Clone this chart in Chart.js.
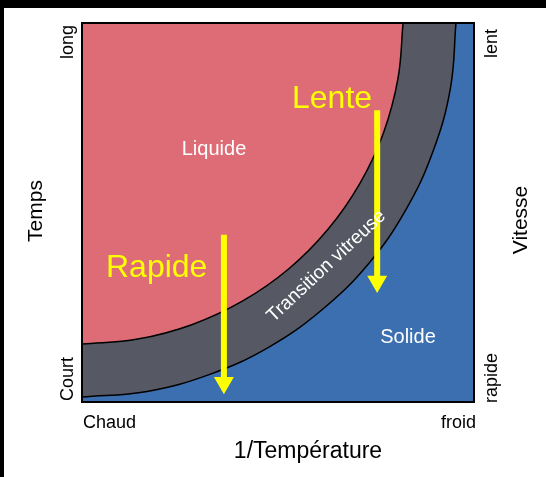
<!DOCTYPE html>
<html>
<head>
<meta charset="utf-8">
<script src="https://cdn.jsdelivr.net/npm/chart.js@4.4.1/dist/chart.umd.min.js"></script>
<style>
  html, body { margin: 0; padding: 0; background: #fff; }
  canvas { display: block; }
</style>
</head>
<body>
<canvas id="chart" width="546" height="477"></canvas>
<script>
// boundary between liquid and glass transition (x = 1/T, y = time)
const liquideX = [0, 14.2, 28.0, 40.9, 52.7, 62.7, 70.9, 76.9, 80.6, 81.9];
const liquideY = [15.3, 16.6, 20.4, 26.6, 35.1, 45.5, 57.7, 71.0, 85.3, 100];
// boundary between glass transition and solid
const verreX = [0, 16.6, 32.6, 47.7, 61.3, 73.1, 82.6, 89.6, 94.0, 95.4];
const verreY = [1.3, 2.8, 7.3, 14.5, 24.4, 36.5, 50.7, 66.3, 82.9, 100];
// cooling arrows
const lenteX = [75.3, 75.3];
const lenteY = [77.0, 31.8];
const rapideX = [36.2, 36.2];
const rapideY = [44.1, 5.1];

const xTickLabels = ['Chaud', 'froid'];
const yTickLabels = ['Court', 'long'];
const y2TickLabels = ['rapide', 'lent'];
const xTitle = '1/Température';
const yTitle = 'Temps';
const y2Title = 'Vitesse';

const ROUGE = 'rgb(221,108,118)';
const GRIS = 'rgb(86,88,100)';
const BLEU = 'rgb(60,111,176)';
const JAUNE = '#ffff00';
const FONT = '"Liberation Sans", Arial, Helvetica, sans-serif';

const pts = (xs, ys) => xs.map((x, i) => ({ x: x, y: ys[i] }));

const fond = {
  id: 'fond',
  beforeDraw(chart) {
    const { ctx, chartArea: a } = chart;
    ctx.save();
    ctx.fillStyle = '#fff';
    ctx.fillRect(0, 0, chart.width, chart.height);
    ctx.fillStyle = '#000';
    ctx.fillRect(0, 0, chart.width, 8);
    ctx.fillRect(0, 0, 4, chart.height);
    ctx.fillStyle = BLEU;
    ctx.fillRect(a.left, a.top, a.right - a.left, a.bottom - a.top);
    ctx.restore();
  }
};

const textes = {
  id: 'textes',
  afterDatasetsDraw(chart) {
    const { ctx, chartArea: a, scales } = chart;
    const sx = scales.x, sy = scales.y;
    ctx.save();
    ctx.strokeStyle = '#000';
    ctx.lineWidth = 2;
    ctx.strokeRect(a.left, a.top, a.right - a.left, a.bottom - a.top);

    ctx.textBaseline = 'alphabetic';
    // labels inside the diagram
    ctx.fillStyle = JAUNE;
    ctx.font = '32px ' + FONT;
    ctx.textAlign = 'left';
    ctx.fillText('Lente', 292, 108);
    ctx.fillText('Rapide', 106, 277);

    ctx.fillStyle = '#fff';
    ctx.font = '20px ' + FONT;
    ctx.textAlign = 'center';
    ctx.fillText('Liquide', 214, 155);
    ctx.fillText('Solide', 408, 343);
    ctx.save();
    ctx.translate(330, 270);
    ctx.rotate(-43 * Math.PI / 180);
    ctx.font = '19px ' + FONT;
    ctx.fillText('Transition vitreuse', 0, 0);
    ctx.restore();

    // x axis ends
    ctx.fillStyle = '#000';
    ctx.font = '18px ' + FONT;
    ctx.textAlign = 'left';
    ctx.fillText(xTickLabels[0], sx.getPixelForValue(0) + 1, 428);
    ctx.textAlign = 'right';
    ctx.fillText(xTickLabels[1], sx.getPixelForValue(100) + 2, 428);
    ctx.font = '23px ' + FONT;
    ctx.textAlign = 'center';
    ctx.fillText(xTitle, 308, 458);

    // rotated labels on left and right
    const vert = (txt, x, y, align, size) => {
      ctx.save();
      ctx.translate(x, y);
      ctx.rotate(-Math.PI / 2);
      ctx.font = size + 'px ' + FONT;
      ctx.textAlign = align;
      ctx.fillText(txt, 0, 0);
      ctx.restore();
    };
    vert(yTickLabels[0], 73, sy.getPixelForValue(0) - 1, 'left', 18);
    vert(yTickLabels[1], 73, sy.getPixelForValue(100) + 36, 'left', 18);
    vert(y2TickLabels[0], 497, sy.getPixelForValue(0) + 1, 'left', 18);
    vert(y2TickLabels[1], 497, sy.getPixelForValue(100) + 35, 'left', 18);
    vert(yTitle, 42, 211, 'center', 21);
    vert(y2Title, 527, 220, 'center', 21);
    ctx.restore();
  }
};

new Chart(document.getElementById('chart'), {
  type: 'scatter',
  data: {
    datasets: [
      {
        data: pts(lenteX, lenteY),
        showLine: true,
        borderColor: JAUNE,
        borderWidth: 6,
        backgroundColor: JAUNE,
        pointRadius: [0, 11.5],
        pointStyle: 'triangle',
        rotation: 180,
        pointBorderWidth: 0,
        order: 0
      },
      {
        data: pts(rapideX, rapideY),
        showLine: true,
        borderColor: JAUNE,
        borderWidth: 6,
        backgroundColor: JAUNE,
        pointRadius: [0, 11.5],
        pointStyle: 'triangle',
        rotation: 180,
        pointBorderWidth: 0,
        order: 0
      },
      {
        data: pts(liquideX, liquideY),
        showLine: true,
        borderColor: '#000',
        borderWidth: 1.5,
        backgroundColor: ROUGE,
        fill: 'end',
        tension: 0.4,
        pointRadius: 0,
        order: 1
      },
      {
        data: pts(verreX, verreY),
        showLine: true,
        borderColor: '#000',
        borderWidth: 1.5,
        backgroundColor: GRIS,
        fill: 'end',
        tension: 0.4,
        pointRadius: 0,
        order: 2
      }
    ]
  },
  options: {
    responsive: false,
    animation: false,
    devicePixelRatio: 1,
    layout: { padding: { left: 82, top: 23, right: 72, bottom: 75 } },
    scales: {
      x: { type: 'linear', min: 0, max: 100, display: false },
      y: { type: 'linear', min: 0, max: 100, display: false }
    },
    plugins: {
      legend: { display: false },
      tooltip: { enabled: false }
    }
  },
  plugins: [fond, textes]
});
</script>
</body>
</html>
